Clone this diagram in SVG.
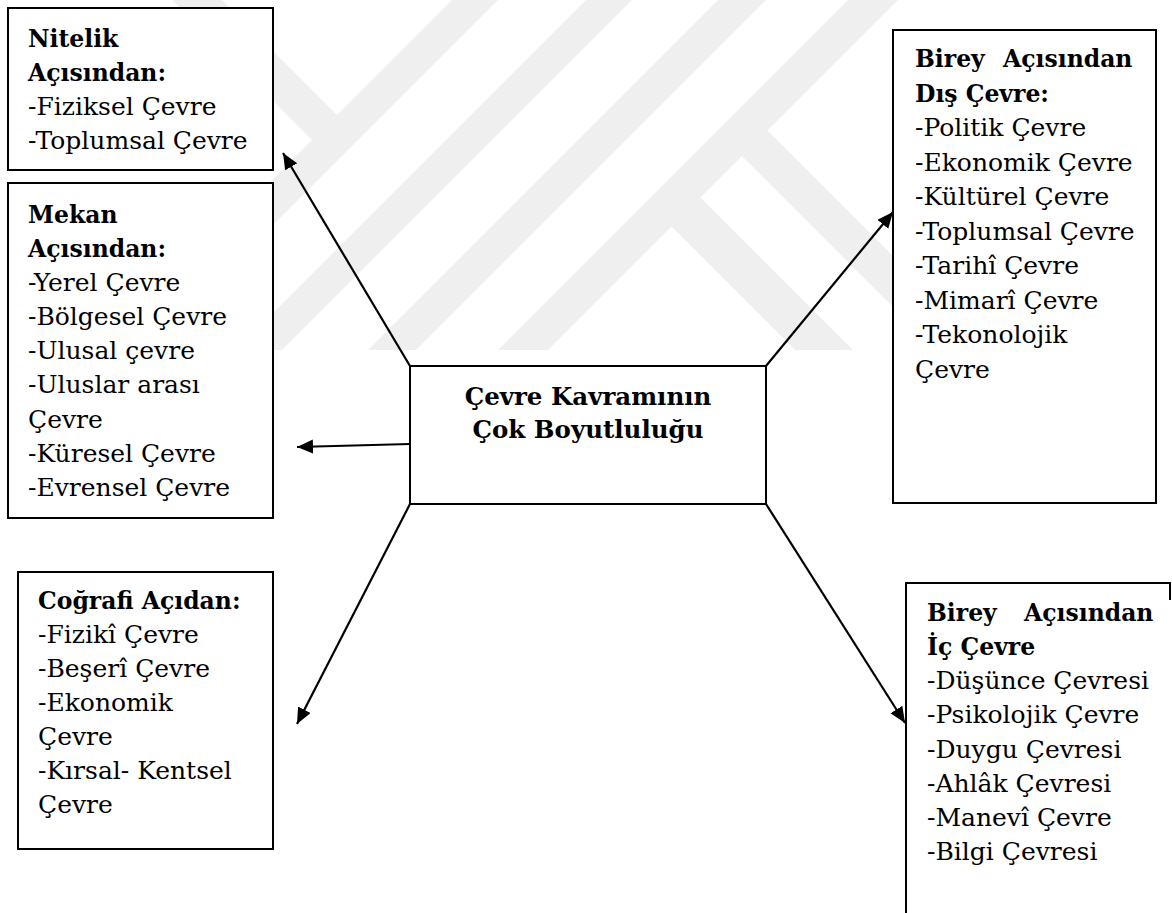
<svg xmlns="http://www.w3.org/2000/svg" width="1172" height="913" viewBox="0 0 1172 913">
<style>
.bg{fill:#ffffff}
.wm{fill:#efefef}
.box{fill:#ffffff;stroke:#000;stroke-width:2}
.edge{fill:none;stroke:#000;stroke-width:2}
.conn{fill:none;stroke:#000;stroke-width:2.2;marker-end:url(#ah)}
.t{font-family:"DejaVu Serif","Liberation Serif",serif;font-size:25px;fill:#000}
.b{font-family:"DejaVu Serif","Liberation Serif",serif;font-size:23.5px;font-weight:bold;fill:#000}
.c{font-family:"DejaVu Serif","Liberation Serif",serif;font-size:24.5px;font-weight:bold;fill:#000}
</style>
<defs>
<marker id="ah" markerUnits="userSpaceOnUse" markerWidth="18" markerHeight="16" refX="16" refY="7" orient="auto">
<path d="M0,0 L16,7 L0,14 z" fill="#000"/>
</marker>
<clipPath id="wmclip"><rect x="0" y="0" width="1172" height="350"/></clipPath>
</defs>
<rect class="bg" x="0" y="0" width="1172" height="913"/>
<g id="watermark" clip-path="url(#wmclip)">
<polygon class="wm" points="452,0 498,0 148,350 102,350"/>
<polygon class="wm" points="586,0 632,0 282,350 236,350"/>
<polygon class="wm" points="718,0 766,0 416,350 368,350"/>
<polygon class="wm" points="848,0 898,0 548,350 498,350"/>
<polygon class="wm" points="172,0 222,0 337,115 312,140"/>
<polygon class="wm" points="767.5,130.5 987,350 936,350 742,156"/>
<polygon class="wm" points="700.5,197.5 853,350 795,350 671.5,226.5"/>
</g>
<g id="connectors">
<line class="conn" x1="410" y1="366" x2="283" y2="153"/>
<line class="conn" x1="410" y1="444" x2="297" y2="447"/>
<line class="conn" x1="766" y1="366" x2="893" y2="212"/>
<line class="conn" x1="410" y1="504" x2="297" y2="724"/>
<line class="conn" x1="766" y1="504" x2="905" y2="723"/>
</g>
<g id="node-nitelik">
<rect class="box" x="8" y="8" width="265" height="162"/>
<text class="b" x="28" y="47">Nitelik</text>
<text class="b" x="28" y="81">Açısından:</text>
<text class="t" x="28" y="115">-Fiziksel Çevre</text>
<text class="t" x="28" y="149">-Toplumsal Çevre</text>
</g>
<g id="node-mekan">
<rect class="box" x="8" y="183" width="265" height="335"/>
<text class="b" x="28" y="223">Mekan</text>
<text class="b" x="28" y="257">Açısından:</text>
<text class="t" x="28" y="291">-Yerel Çevre</text>
<text class="t" x="28" y="325">-Bölgesel Çevre</text>
<text class="t" x="28" y="359">-Ulusal çevre</text>
<text class="t" x="28" y="393">-Uluslar arası</text>
<text class="t" x="28" y="428">Çevre</text>
<text class="t" x="28" y="462">-Küresel Çevre</text>
<text class="t" x="28" y="496">-Evrensel Çevre</text>
</g>
<g id="node-cografi">
<rect class="box" x="18" y="572" width="255" height="277"/>
<text class="b" x="38" y="609">Coğrafi Açıdan:</text>
<text class="t" x="38" y="643">-Fizikî Çevre</text>
<text class="t" x="38" y="677">-Beşerî Çevre</text>
<text class="t" x="38" y="711">-Ekonomik</text>
<text class="t" x="38" y="745">Çevre</text>
<text class="t" x="38" y="779">-Kırsal- Kentsel</text>
<text class="t" x="38" y="813">Çevre</text>
</g>
<g id="node-merkez">
<rect class="box" x="410" y="366" width="356" height="138"/>
<text class="c" x="588" y="405" text-anchor="middle">Çevre Kavramının</text>
<text class="c" x="588" y="438" text-anchor="middle">Çok Boyutluluğu</text>
</g>
<g id="node-birey-dis">
<rect class="box" x="893" y="30" width="263" height="473"/>
<text class="b" x="915" y="67">Birey</text>
<text class="b" x="1003" y="67">Açısından</text>
<text class="b" x="915" y="102">Dış Çevre:</text>
<text class="t" x="915" y="136">-Politik Çevre</text>
<text class="t" x="915" y="171">-Ekonomik Çevre</text>
<text class="t" x="915" y="205">-Kültürel Çevre</text>
<text class="t" x="915" y="240">-Toplumsal Çevre</text>
<text class="t" x="915" y="274">-Tarihî Çevre</text>
<text class="t" x="915" y="309">-Mimarî Çevre</text>
<text class="t" x="915" y="343">-Tekonolojik</text>
<text class="t" x="915" y="378">Çevre</text>
</g>
<g id="node-birey-ic">
<rect x="906" y="583" width="266" height="330" fill="#ffffff"/>
<path class="edge" d="M1170,600 V583 H906 V913"/>
<text class="b" x="927" y="621">Birey</text>
<text class="b" x="1024" y="621">Açısından</text>
<text class="b" x="927" y="655">İç Çevre</text>
<text class="t" x="927" y="689">-Düşünce Çevresi</text>
<text class="t" x="927" y="723">-Psikolojik Çevre</text>
<text class="t" x="927" y="758">-Duygu Çevresi</text>
<text class="t" x="927" y="792">-Ahlâk Çevresi</text>
<text class="t" x="927" y="826">-Manevî Çevre</text>
<text class="t" x="927" y="860">-Bilgi Çevresi</text>
</g>
</svg>
